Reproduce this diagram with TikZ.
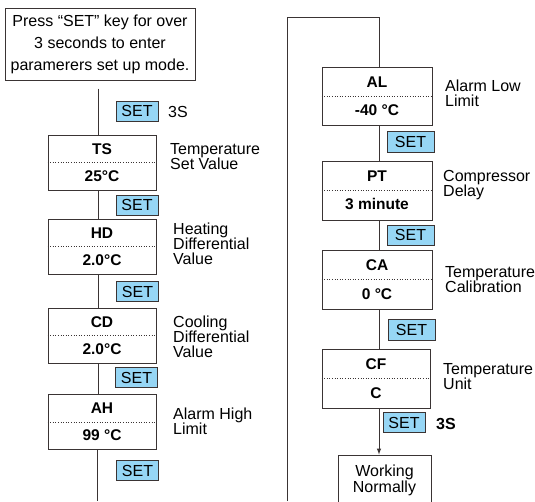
\documentclass[tikz,border=0pt]{standalone}
\usepackage{fontspec}
\setmainfont{Liberation Sans}
\usetikzlibrary{arrows}
\definecolor{lineclr}{RGB}{58,52,52}
\definecolor{setblue}{RGB}{150,214,245}
\tikzset{
	parbox/.style={draw=lineclr, line width=1pt, minimum width=108pt, minimum height=55pt, inner sep=0pt, align=center, font=\fontsize{15.5}{15}\selectfont\bfseries},
	setkey/.style={draw=lineclr, line width=1pt, fill=setblue, minimum width=42pt, minimum height=20pt, inner sep=0pt, font=\fontsize{16}{16}\selectfont},
	note/.style={anchor=west, align=left, inner sep=0pt, font=\fontsize{16}{15}\selectfont},
	link/.style={draw=lineclr, line width=1pt}
}
\begin{document}
			\begin{tikzpicture}[x=1pt, y=-1pt]
				\useasboundingbox (0,0) rectangle (535,501);
				\coordinate (spineL) at (98,0);
				\coordinate (spineR) at (379,0);
				\node[draw=lineclr, line width=1pt, minimum width=190pt, minimum height=72pt, align=center, font=\fontsize{16}{22}\selectfont] (start) at (100,44) {Press “SET” key for over\\3 seconds to enter\\paramerers set up mode.};
				\node[parbox] (ts) at (102,162.5) {TS\\[12pt]25°C};
				\node[parbox] (hd) at (102,246.5) {HD\\[12pt]2.0°C};
				\node[parbox] (cd) at (102,335.5) {CD\\[12pt]2.0°C};
				\node[parbox] (ah) at (102,422) {AH\\[12pt]99 °C};
				\node[parbox, minimum width=110pt, minimum height=58pt] (al) at (377,96) {AL\\[13pt]-40 °C};
				\node[parbox, minimum width=110pt, minimum height=59pt] (pt) at (377,190.5) {PT\\[13pt]3 minute};
				\node[parbox, minimum width=110pt, minimum height=59pt] (ca) at (377,279.5) {CA\\[14pt]0 °C};
				\node[parbox, minimum width=108pt, minimum height=59pt] (cf) at (376,378.5) {CF\\[14pt]C};
				\node[draw=lineclr, line width=1pt, minimum width=93pt, minimum height=50pt, align=center, font=\fontsize{16}{16}\selectfont] (work) at (384.5,480) {Working\\Normally};
				\foreach \n in {ts,hd,cd,ah,al,pt,ca,cf}
					\draw[lineclr, dotted, line width=.6pt] (\n.west) -- (\n.east);
				\draw[link] ([yshift=-8pt]start.south -| spineL) -- (ts.north -| spineL);
				\foreach \a/\b in {ts/hd,hd/cd,cd/ah}
					\draw[link] (\a.south -| spineL) -- (\b.north -| spineL);
				\coordinate (endL) at (97,501);
				\draw[link] (ah.south -| endL) -- (endL);
				\coordinate (loopB) at (287,501);
				\coordinate (loopT) at (287,17);
				\draw[link] (loopB) -- (loopT) -| (al.north -| spineR);
				\foreach \a/\b in {al/pt,pt/ca,ca/cf}
					\draw[link] (\a.south -| spineR) -- (\b.north -| spineR);
				\draw[link, -latex] (cf.south -| spineR) -- (work.north -| spineR);
				\node[setkey] (s1) at (137,111) {SET};
				\node[setkey] (s2) at (137,205) {SET};
				\node[setkey] (s3) at (137.5,291.5) {SET};
				\node[setkey] (s4) at (136.5,377.5) {SET};
				\node[setkey] (s5) at (137.5,470.5) {SET};
				\node[setkey, minimum width=47pt, minimum height=21pt] (s6) at (410.5,141.5) {SET};
				\node[setkey, minimum width=47pt] (s7) at (410.5,235) {SET};
				\node[setkey, minimum width=47pt, minimum height=21pt] (s8) at (411.5,329.5) {SET};
				\node[setkey] (s9) at (404,422.5) {SET};
				\node[note] (k1) at (168,112) {3S};
				\node[note, font=\fontsize{16}{15}\selectfont\bfseries] (k2) at (436,423.5) {3S};
				\node[note] (lts) at (170,157) {Temperature\\Set Value};
				\node[note] (lhd) at (173,244) {Heating\\Differential\\Value};
				\node[note] (lcd) at (173,337) {Cooling\\Differential\\Value};
				\node[note] (lah) at (173,421.5) {Alarm High\\Limit};
				\node[note] (lal) at (445,93) {Alarm Low\\Limit};
				\node[note] (lpt) at (443,185) {Compressor\\Delay};
				\node[note] (lca) at (445,279.5) {Temperature\\Calibration};
				\node[note] (lcf) at (443,377) {Temperature\\Unit};
			\end{tikzpicture}
\end{document}
